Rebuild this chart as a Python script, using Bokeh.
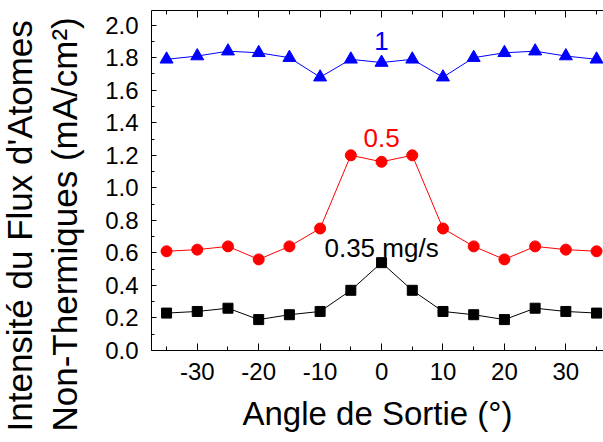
from bokeh.plotting import figure
from bokeh.models import (Range1d, LinearAxis, SingleIntervalTicker,
                          NumeralTickFormatter, Title, ColumnDataSource)
from bokeh.core.properties import value
from bokeh.embed import file_html
from bokeh.resources import INLINE

# ---- data ----
angles = [-35, -30, -25, -20, -15, -10, -5, 0, 5, 10, 15, 20, 25, 30, 35]
flux_035 = [0.23, 0.24, 0.26, 0.19, 0.22, 0.24, 0.37, 0.54, 0.37, 0.24, 0.22, 0.19, 0.26, 0.24, 0.23]
flux_05 = [0.61, 0.62, 0.64, 0.56, 0.64, 0.75, 1.20, 1.16, 1.20, 0.75, 0.64, 0.56, 0.64, 0.62, 0.61]
flux_1 = [1.79, 1.81, 1.84, 1.83, 1.80, 1.68, 1.79, 1.77, 1.79, 1.68, 1.80, 1.83, 1.84, 1.81, 1.79]

series_labels = ["1", "0.5", "0.35 mg/s"]
series_label_x = [0, 0, 0]
series_label_y = [1.90, 1.305, 0.63]
series_colors = ["#0000ff", "#ff0000", "#000000"]

x_title = "Angle de Sortie (°)"
y_title_1 = "Intensité du Flux d'Atomes"
y_title_2 = "Non-Thermiques (mA/cm²)"

FONT = "Liberation Sans"
X0, X1 = -37.45, 36.13
Y0, Y1 = 0.0, 2.09

p = figure(frame_width=452, frame_height=340,
           min_border_left=151, min_border_right=0,
           min_border_top=10, min_border_bottom=0,
           x_range=Range1d(X0, X1), y_range=Range1d(Y0, Y1),
           output_backend="svg", toolbar_location=None)
p.background_fill_color = "white"
p.border_fill_color = "white"
p.outline_line_color = None
p.xgrid.visible = False
p.ygrid.visible = False


def style_axis(ax, major_in, minor_in, size="24px", standoff=8):
    ax.axis_line_color = "black"
    ax.axis_line_width = 1
    ax.major_tick_line_color = "black"
    ax.minor_tick_line_color = "black"
    ax.major_tick_in = major_in
    ax.major_tick_out = 0
    ax.minor_tick_in = minor_in
    ax.minor_tick_out = 0
    ax.major_label_text_font = FONT
    ax.major_label_text_font_size = size
    ax.major_label_text_color = "black"
    ax.major_label_standoff = standoff


xa = p.xaxis[0]
xa.ticker = SingleIntervalTicker(interval=10, num_minor_ticks=2)
xa.formatter = NumeralTickFormatter(format="0")
style_axis(xa, 7, 4, standoff=12)
xa.axis_label = x_title
xa.axis_label_text_font = FONT
xa.axis_label_text_font_size = "33px"
xa.axis_label_text_font_style = "normal"
xa.axis_label_text_color = "black"
xa.axis_label_standoff = 12

ya = p.yaxis[0]
ya.ticker = SingleIntervalTicker(interval=0.2, num_minor_ticks=2)
ya.formatter = NumeralTickFormatter(format="0.0")
style_axis(ya, 5, 3, standoff=13)

top = LinearAxis(ticker=SingleIntervalTicker(interval=10, num_minor_ticks=2))
style_axis(top, 7, 4, size="0px", standoff=0)
top.major_label_text_alpha = 0
p.add_layout(top, "above")

# ---- y-axis title (two lines) ----
t2 = Title(text=y_title_2, align="left", offset=-81, standoff=37,
           text_font=FONT, text_font_size="35px", text_font_style="normal",
           text_color="black")
t1 = Title(text=y_title_1, align="left", offset=-81, standoff=-28,
           text_font=FONT, text_font_size="35px", text_font_style="normal",
           text_color="black")
p.add_layout(t2, "left")
p.add_layout(t1, "left")

# ---- series ----
p.line(angles, flux_035, line_color="black", line_width=1)
p.scatter(angles, flux_035, marker="square", size=10, fill_color="black", line_color="black")

p.line(angles, flux_05, line_color="#ff0000", line_width=1)
p.scatter(angles, flux_05, marker="circle", size=11, fill_color="#ff0000", line_color="#ff0000")

p.line(angles, flux_1, line_color="#0000ff", line_width=1)
p.scatter(angles, flux_1, marker="triangle", size=13, fill_color="#0000ff", line_color="#0000ff")

lab_src = ColumnDataSource(dict(x=series_label_x, y=series_label_y,
                                t=series_labels, c=series_colors))
p.text(x="x", y="y", text="t", text_color="c", source=lab_src,
       text_font=value(FONT), text_font_size="26px",
       text_align="center", text_baseline="middle")

open("out.html", "w").write(file_html(p, INLINE))
